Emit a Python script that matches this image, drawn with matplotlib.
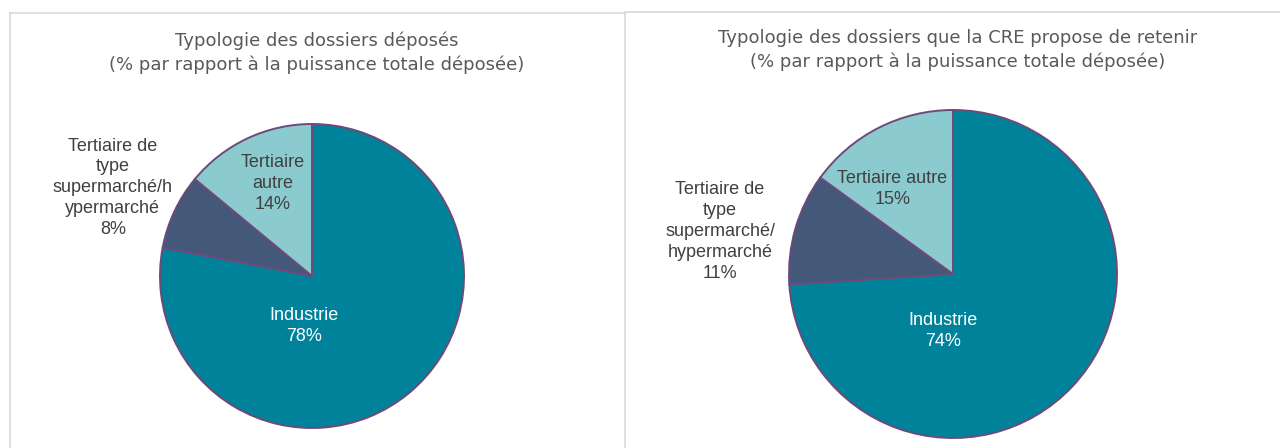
import matplotlib.pyplot as plt
from matplotlib.lines import Line2D

# Data
categories_left = ["Industrie", "Tertiaire de\ntype\nsupermarché/h\nypermarché", "Tertiaire\nautre"]
values_left = [78, 8, 14]
categories_right = ["Industrie", "Tertiaire de\ntype\nsupermarché/\nhypermarché", "Tertiaire autre"]
values_right = [74, 11, 15]

title_left = "Typologie des dossiers déposés\n(% par rapport à la puissance totale déposée)"
title_right = "Typologie des dossiers que la CRE propose de retenir\n(% par rapport à la puissance totale déposée)"

colors = ["#00829A", "#44587A", "#8BCBD0"]
text_colors = ["white", "#404040", "#404040"]
edge = "#6E4A78"

W, H = 1280, 448
fig = plt.figure(figsize=(W / 100, H / 100), dpi=100)


def px_axes(cx, cy, r):
    # axes positioned in pixels (y from top), square of size 2r
    return fig.add_axes([(cx - r) / W, (H - cy - r) / H, 2 * r / W, 2 * r / H])


def draw_pie(ax, values, labels, label_pos):
    wedges, _ = ax.pie(values, colors=colors, startangle=90, counterclock=False,
                       wedgeprops=dict(edgecolor=edge, linewidth=1.4))
    for w in wedges:
        w.set_clip_on(False)
    for lab, v, (x, y), tc in zip(labels, values, label_pos, text_colors):
        ax.text(x, y, "%s\n%d%%" % (lab, v), ha="center", va="center", color=tc,
                fontsize=13, family=["Liberation Sans", "DejaVu Sans"], linespacing=1.3)
    ax.set_xlim(-1, 1)
    ax.set_ylim(-1, 1)
    ax.set_aspect("equal")
    ax.axis("off")


ax1 = px_axes(312, 276, 152)
draw_pie(ax1, values_left, categories_left,
         [(-0.05, -0.33), (-1.31, 0.58), (-0.26, 0.61)])

ax2 = px_axes(953, 274, 164)
draw_pie(ax2, values_right, categories_right,
         [(-0.06, -0.35), (-1.42, 0.26), (-0.37, 0.52)])

title_font = ["DejaVu Sans"]
fig.text(317 / W, 1 - 53 / H, title_left, ha="center", va="center", fontsize=13,
         color="#595959", family=title_font, linespacing=1.35)
fig.text(958 / W, 1 - 50 / H, title_right, ha="center", va="center", fontsize=13,
         color="#595959", family=title_font, linespacing=1.35)

# panel borders
border = "#D9D9D9"
for xs, ys in [([10, 10], [H, 13]), ([10, 625], [13, 13]), ([625, 625], [13, H]),
               ([625, W], [12, 12])]:
    fig.add_artist(Line2D([x / W for x in xs], [1 - y / H for y in ys],
                          color=border, linewidth=1.2, transform=fig.transFigure))

fig.savefig("out.png", dpi=100)
